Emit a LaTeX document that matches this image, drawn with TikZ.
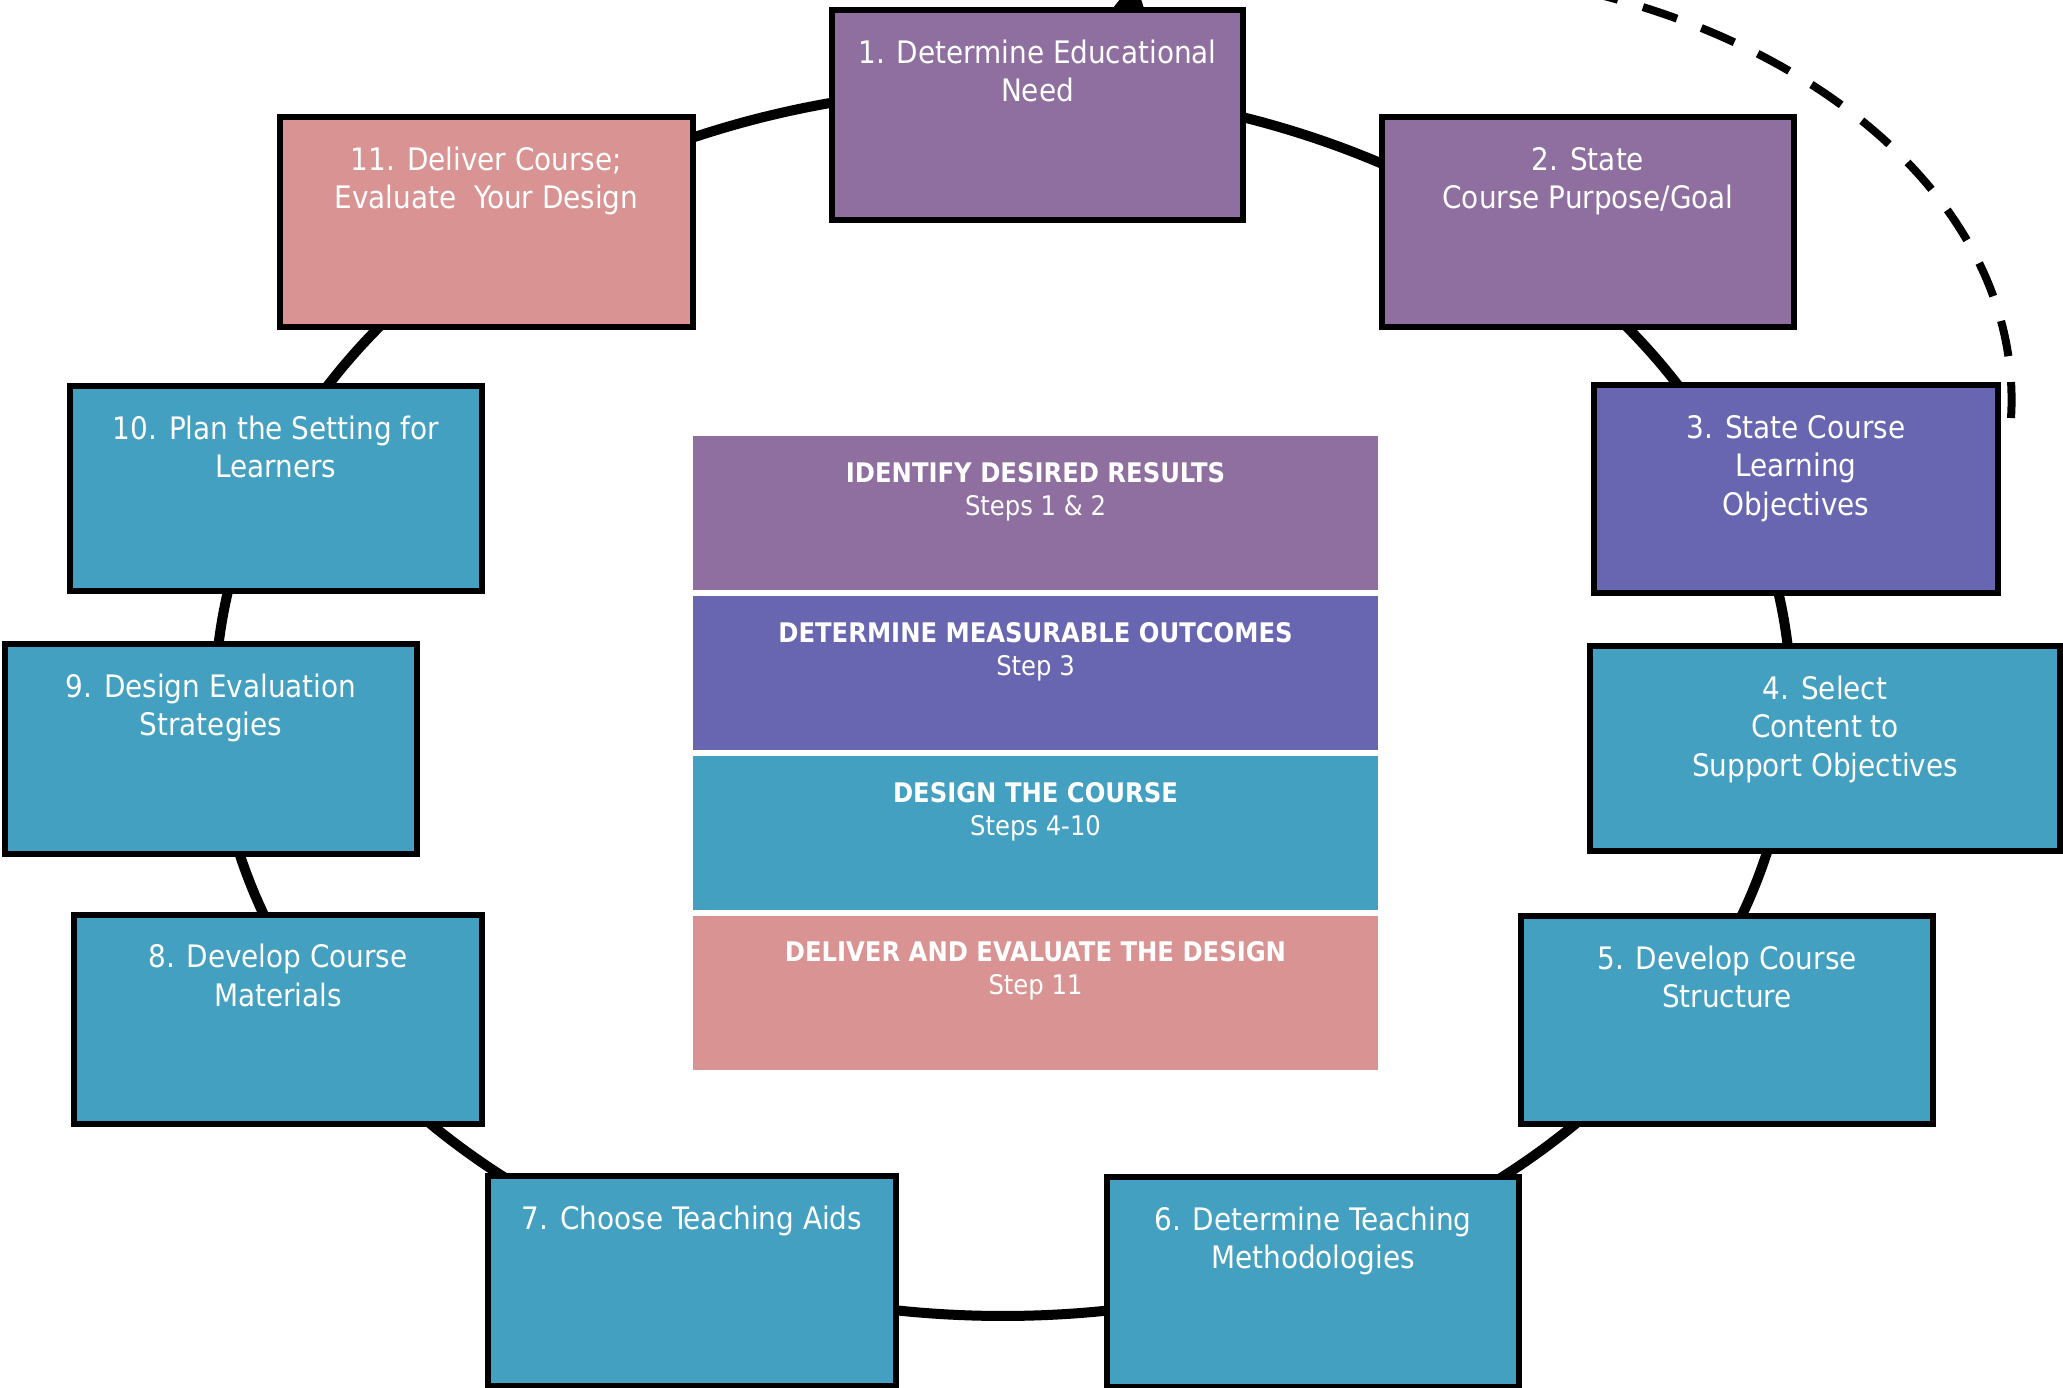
\documentclass[tikz,border=0pt]{standalone}
\usepackage{fontspec}
\newfontfamily\stepfont{DejaVu Sans Condensed}[BoldFont={DejaVu Sans Condensed Bold}]
\usetikzlibrary{arrows.meta}
\definecolor{cPurple}{RGB}{142,111,159}
\definecolor{cViolet}{RGB}{104,102,176}
\definecolor{cTeal}{RGB}{67,160,193}
\definecolor{cPink}{RGB}{217,147,147}
\newcommand{\steptext}[3]{\parbox[c][#2pt][t]{#1pt}{\centering\fontsize{31}{38.5}\selectfont\rule{0pt}{53pt}#3\par}}
\newcommand{\bandtext}[2]{\parbox[c][154pt][t]{685pt}{\centering\fontsize{27}{33}\selectfont\rule{0pt}{46pt}\textbf{#1}\\#2\par}}
\tikzset{
  stepbox/.style={draw=black, line width=6pt, inner sep=0pt, outer sep=0pt, text=white, font=\stepfont},
  band/.style={inner sep=0pt, outer sep=0pt, text=white, font=\stepfont},
  ring/.style={draw=black, line width=10pt},
  dasharrow/.style={draw=black, line width=8pt, dash pattern=on 36pt off 26pt, -{Triangle[length=30pt,width=38pt]}}
}
\begin{document}
\begin{tikzpicture}[x=1pt,y=1pt]
\useasboundingbox (0,0) rectangle (2063,-1387);
\clip (0,0) rectangle (2063,-1387);
% points of the ring inside each box
\foreach \i/\a in {1/87.4,2/46.5,3/19,4/-4.2,5/-29.4,6/-67.4,7/-112.7,8/-150.8,9/-175.6,10/-200.7,11/129.9}
  \path (1003,-702) ++(\a:788 and 614) coordinate (a\i);
% connectors (ring segments)
\foreach \i/\a/\b in {11/129.9/87.4,1/87.4/46.5,2/46.5/19,3/19/-4.2,4/-4.2/-29.4,5/-29.4/-67.4,6/-67.4/-112.7,7/-112.7/-150.8,8/-150.8/-175.6,9/-175.6/-200.7,10/-200.7/-230.1}
  \draw[ring] (a\i) arc[start angle=\a, end angle=\b, x radius=788, y radius=614];
% dashed return arrow from step 3 to step 1 (drawn under the boxes)
\coordinate (d0) at (2011,-418);
\draw[dasharrow] (d0) arc[start angle=-2.4, end angle=115.0, x radius=632, y radius=432];
% step boxes
\node[stepbox, fill=cPurple] (n1) at (1037.5,-115) {\steptext{411}{210}{1. Determine Educational\\Need}};
\node[stepbox, fill=cPurple] (n2) at (1588,-222) {\steptext{412}{210}{2. State\\Course Purpose/Goal}};
\node[stepbox, fill=cViolet] (n3) at (1796,-489) {\steptext{404}{208}{3. State Course\\Learning\\Objectives}};
\node[stepbox, fill=cTeal] (n4) at (1825,-748.5) {\steptext{470}{205}{4. Select\\Content to\\Support Objectives}};
\node[stepbox, fill=cTeal] (n5) at (1727,-1020) {\steptext{412}{208}{5. Develop Course\\Structure}};
\node[stepbox, fill=cTeal] (n6) at (1313,-1282) {\steptext{412}{210}{6. Determine Teaching\\Methodologies}};
\node[stepbox, fill=cTeal] (n7) at (692,-1281) {\steptext{408}{210}{7. Choose Teaching Aids}};
\node[stepbox, fill=cTeal] (n8) at (278,-1019) {\steptext{408}{209}{8. Develop Course\\Materials}};
\node[stepbox, fill=cTeal] (n9) at (211,-749) {\steptext{412}{210}{9. Design Evaluation\\Strategies}};
\node[stepbox, fill=cTeal] (n10) at (276,-488.5) {\steptext{412}{205}{10. Plan the Setting for\\Learners}};
\node[stepbox, fill=cPink] (n11) at (486.5,-222) {\steptext{413}{210}{11. Deliver Course;\\Evaluate\ \ Your Design}};
% central bands
\node[band, fill=cPurple] (b1) at (1035.5,-513) {\bandtext{IDENTIFY DESIRED RESULTS}{Steps 1 \& 2}};
\node[band, fill=cViolet] (b2) at (1035.5,-673) {\bandtext{DETERMINE MEASURABLE OUTCOMES}{Step 3}};
\node[band, fill=cTeal] (b3) at (1035.5,-833) {\bandtext{DESIGN THE COURSE}{Steps 4-10}};
\node[band, fill=cPink] (b4) at (1035.5,-992.5) {\bandtext{DELIVER AND EVALUATE THE DESIGN}{Step 11}};
\end{tikzpicture}
\end{document}
